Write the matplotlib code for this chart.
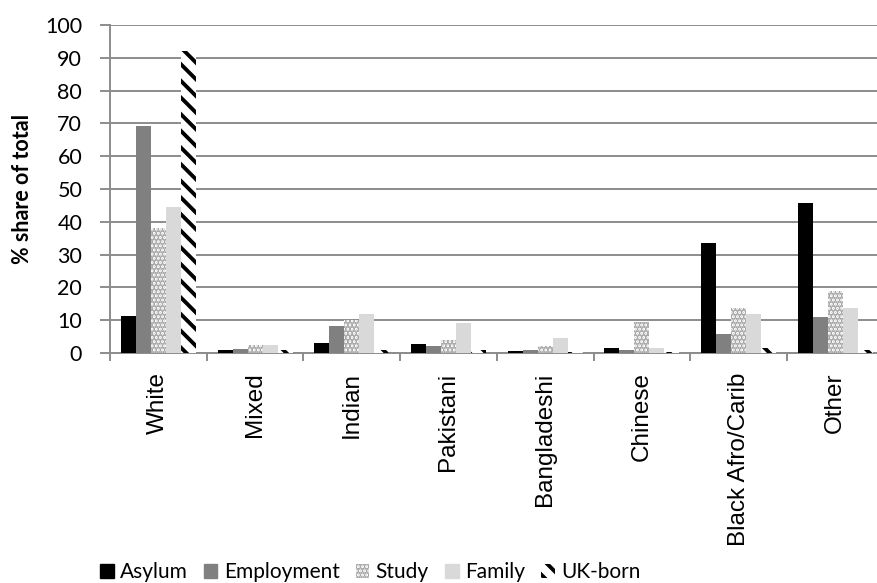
import numpy as np
import matplotlib
matplotlib.use("Agg")
import matplotlib.pyplot as plt
from matplotlib.patches import Patch

categories = ["White", "Mixed", "Indian", "Pakistani", "Bangladeshi",
              "Chinese", "Black Afro/Carib", "Other"]
asylum = [11.2, 0.8, 3.2, 2.7, 0.5, 1.5, 33.4, 45.6]
employment = [69.3, 1.2, 8.3, 2.0, 0.8, 1.0, 5.8, 11.0]
study = [38.2, 2.5, 10.0, 4.0, 2.0, 9.6, 13.8, 18.8]
family = [44.4, 2.3, 11.8, 9.0, 4.5, 1.6, 11.8, 13.8]
uk_born = [92.0, 1.0, 1.0, 1.0, 0.3, 0.2, 1.5, 0.8]

series_names = ["Asylum", "Employment", "Study", "Family", "UK-born"]

plt.rcParams["hatch.linewidth"] = 2.8
grid_grey = "#8c8c8c"

fig = plt.figure(figsize=(8.77, 5.83), dpi=100)
ax = fig.add_axes([110 / 877, 1 - 353 / 583, 8 * 96.7 / 877, (353 - 25) / 583])

x = np.arange(len(categories))
w = 0.155
styles = [
    dict(color="black"),
    dict(color="#808080"),
    dict(facecolor="white", edgecolor="#a6a6a6", hatch="....", linewidth=0),
    dict(color="#d9d9d9"),
    dict(facecolor="white", edgecolor="black", hatch="\\\\", linewidth=0),
]
all_vals = [asylum, employment, study, family, uk_born]

handles = []
for i, (vals, st, name) in enumerate(zip(all_vals, styles, series_names)):
    ax.bar(x + (i - 2) * w, vals, w, zorder=3, **st)
    handles.append(Patch(label=name, **st))

ax.set_xlim(-0.5, len(categories) - 0.5)
ax.set_ylim(0, 100)
ax.set_yticks(np.arange(0, 101, 10))
ax.yaxis.grid(True, color=grid_grey, linewidth=1.4, zorder=0)
ax.set_axisbelow(True)

for s in ["top", "right"]:
    ax.spines[s].set_visible(False)
for s in ["left", "bottom"]:
    ax.spines[s].set_color(grid_grey)
    ax.spines[s].set_linewidth(1.4)

ax.set_xticks(x)
ax.set_xticklabels(categories, rotation=90, fontsize=17.5, family="Liberation Sans", va="top")
ax.set_xticks(np.arange(-0.5, len(categories)), minor=True)
ax.tick_params(axis="x", which="major", length=0, pad=14)
ax.tick_params(axis="x", which="minor", length=6, width=1.4, color=grid_grey, direction="out")
ax.tick_params(axis="y", length=7, width=1.4, color=grid_grey, labelsize=15.5, pad=13)
for lab in ax.get_yticklabels():
    lab.set_family("Lato")

ax.set_ylabel("% share of total", fontsize=15.5, fontweight="bold", family="Lato", va="center")
ax.yaxis.set_label_coords(-88 / 773.6, 0.5)

fig.legend(handles=handles, loc="center", bbox_to_anchor=(0.422, 0.019), ncol=5,
           frameon=False, prop={"family": "Lato", "size": 15},
           handlelength=0.65, handleheight=0.65, handletextpad=0.3, columnspacing=0.78)

fig.savefig("out.png", dpi=100)
